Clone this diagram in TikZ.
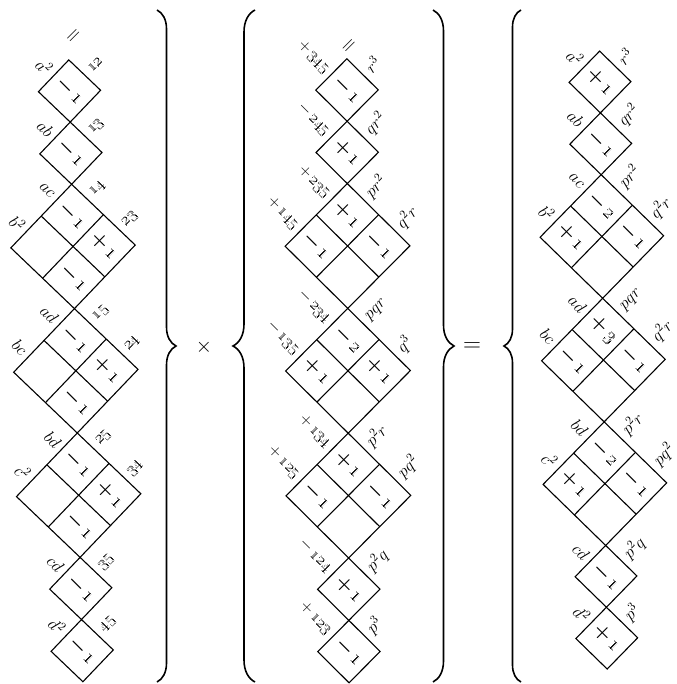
\documentclass[tikz,border=0pt]{standalone}
\usepackage{fix-cm}
\usetikzlibrary{decorations.pathreplacing}

\newcommand{\sn}[2]{$#1$\,\oldstylenums{#2}}

\newcommand{\tablecol}[5]{%
  \foreach \k in {0,1,8,9}
    \draw[cellrule] (0,{(2*\k-1)*#2}) -- ({#2},{2*\k*#2}) -- (0,{(2*\k+1)*#2}) -- ({-#2},{2*\k*#2}) -- cycle;
  \foreach \k in {2,4,6} {
    \draw[cellrule] (0,{(2*\k-1)*#2}) -- ({2*#2},{(2*\k+1)*#2}) -- (0,{(2*\k+3)*#2}) -- ({-2*#2},{(2*\k+1)*#2}) -- cycle;
    \draw[cellrule] ({-#2},{2*\k*#2}) -- ({#2},{(2*\k+2)*#2});
    \draw[cellrule] ({#2},{2*\k*#2}) -- ({-#2},{(2*\k+2)*#2});
  }
  \foreach \lab [count=\r from 0] in {#3} {
    \pgfmathtruncatemacro{\k}{(\r<2 || \r>7) ? \r : 2*floor(\r/2)}
    \node[rowlab] (#1-row-\r) at ({(\k-\r-0.5)*#2-3},{(\k+\r-0.5)*#2-3}) {\lab};
  }
  \foreach \lab [count=\c from 0] in {#4} {
    \pgfmathtruncatemacro{\k}{(\c<2 || \c>7) ? \c : 2*floor(\c/2)}
    \node[collab] (#1-col-\c) at ({(\c-\k+0.5)*#2+4},{(\c+\k-0.5)*#2-4}) {\lab};
  }
  \foreach \r/\c/\txt in {#5}
    \node[entry] (#1-cell-\r-\c) at ({(\c-\r)*#2},{(\c+\r)*#2}) {\txt};
}

\begin{document}
\begin{tikzpicture}[x=1pt, y=-1pt,
    cellrule/.style={line width=1.1pt},
    entry/.style={rotate=-45, inner sep=0pt, font=\fontsize{20}{24}\selectfont\bfseries\boldmath},
    rowlab/.style={rotate=-45, anchor=east, inner sep=1pt, font=\fontsize{17}{20}\selectfont},
    collab/.style={rotate=45, anchor=west, inner sep=1pt, font=\fontsize{17}{20}\selectfont},
    bigbrace/.style={decorate, decoration={brace, amplitude=#1}, line width=1.6pt}
]
\useasboundingbox (0,0) rectangle (676,684);

\begin{scope}[shift={(69.5,91)}, rotate=1.3]
  \tablecol{L}{31.1}
    {$a^2$, $ab$, $ac$, $b^2$, $ad$, $bc$, $bd$, $c^2$, $cd$, $d^2$}
    {\oldstylenums{12}, \oldstylenums{13}, \oldstylenums{14}, \oldstylenums{23}, \oldstylenums{15},
     \oldstylenums{24}, \oldstylenums{25}, \oldstylenums{34}, \oldstylenums{35}, \oldstylenums{45}}
    {0/0/\sn-1, 1/1/\sn-1, 2/2/\sn-1, 2/3/\sn+1, 3/3/\sn-1, 4/4/\sn-1, 4/5/\sn+1,
     5/5/\sn-1, 6/6/\sn-1, 6/7/\sn+1, 7/7/\sn-1, 8/8/\sn-1, 9/9/\sn-1}
  \node[rotate=45, font=\huge] (L-eq) at (6,-54) {$=$};
\end{scope}

\begin{scope}[shift={(347,90)}, rotate=0.2]
  \tablecol{M}{31.2}
    {\sn+{345}, \sn-{245}, \sn+{235}, \sn+{145}, \sn-{234}, \sn-{135}, \sn+{134}, \sn+{125}, \sn-{124}, \sn+{123}}
    {$r^3$, $qr^2$, $pr^2$, $q^2r$, $pqr$, $q^3$, $p^2r$, $pq^2$, $p^2q$, $p^3$}
    {0/0/\sn-1, 1/1/\sn+1, 2/2/\sn+1, 2/3/\sn-1, 3/2/\sn-1, 4/4/\sn-2, 4/5/\sn+1,
     5/4/\sn+1, 6/6/\sn+1, 6/7/\sn-1, 7/6/\sn-1, 8/8/\sn+1, 9/9/\sn-1}
  \node[rotate=45, font=\huge] (M-eq) at (3,-43) {$=$};
\end{scope}

\begin{scope}[shift={(600,82)}, rotate=0.7]
  \tablecol{R}{30.9}
    {$a^2$, $ab$, $ac$, $b^2$, $ad$, $bc$, $bd$, $c^2$, $cd$, $d^2$}
    {$r^3$, $qr^2$, $pr^2$, $q^2r$, $pqr$, $q^2r$, $p^2r$, $pq^2$, $p^2q$, $p^3$}
    {0/0/\sn+1, 1/1/\sn-1, 2/2/\sn-2, 2/3/\sn-1, 3/2/\sn+1, 4/4/\sn+3, 4/5/\sn-1,
     5/4/\sn-1, 6/6/\sn-2, 6/7/\sn-1, 7/6/\sn+1, 8/8/\sn-1, 9/9/\sn+1}
\end{scope}

\draw[bigbrace=19pt] (157,10) -- (157,682);
\node[font=\huge] (times) at (204,347) {$\times$};
\draw[bigbrace=22pt] (255,682) -- (255,10);
\draw[bigbrace=21pt] (433,10) -- (433,682);
\node[font=\Huge] (equals) at (472,347) {$=$};
\draw[bigbrace=17pt] (521,682) -- (521,10);
\end{tikzpicture}
\end{document}
